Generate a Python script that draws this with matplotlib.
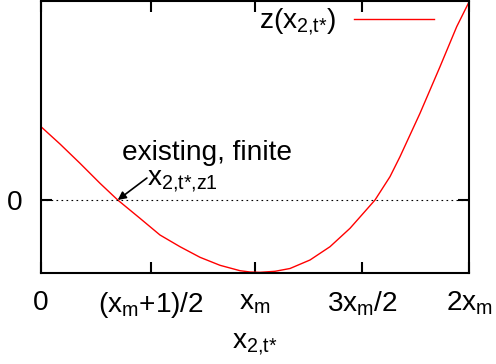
import matplotlib
matplotlib.use("Agg")
import matplotlib.pyplot as plt

plt.rcParams['font.family'] = ['Liberation Sans', 'DejaVu Sans']
plt.rcParams['mathtext.fontset'] = 'custom'
plt.rcParams['mathtext.rm'] = 'Liberation Sans'
plt.rcParams['mathtext.it'] = 'Liberation Sans'
plt.rcParams['mathtext.default'] = 'regular'

# curve z(x_2,t*) (x in units where x_m = 40)
x_vals = [0, 3.55, 7.29, 11.03, 14.34, 18.5, 22.24, 25.98, 29.72, 33.46, 37.2,
          39.07, 40.93, 43.74, 46.54, 50.28, 54.02, 57.76, 60.24, 62.43, 65.23,
          67.1, 70.84, 74.58, 77.7, 80.0]
z_vals = [7.33, 5.6, 3.67, 1.67, 0.0, -1.83, -3.5, -4.67, -5.73, -6.53, -7.07,
          -7.2, -7.23, -7.13, -6.85, -6.0, -4.67, -2.83, -1.33, 0.0, 2.33,
          4.33, 8.67, 13.33, 17.33, 19.8]

xticks = [0, 20.5, 40, 60, 80]
xticklabels = ['0', '$(x_m$+1)/2', '$x_m$', '$3x_m/2$', '$2x_m$']

fs = 20.2

fig = plt.figure(figsize=(4.96, 3.64), dpi=100)
ax = fig.add_axes([41/496, 1 - 273/364, 428/496, 272/364])

ax.plot(x_vals, z_vals, color='red', lw=1, label='$z(x_{2{,}t{*}})$')
ax.axhline(0, color='black', lw=0.8, ls=(0, (1.5, 3)))

ax.set_xlim(0, 80)
ax.set_ylim(-7.3, 19.9)
ax.set_xticks(xticks)
ax.set_xticklabels(xticklabels)
ax.set_yticks([0])
ax.set_yticklabels(['0'])
ax.tick_params(axis='both', direction='in', length=8, width=1.5, labelsize=fs,
               top=True, right=True)
ax.tick_params(axis='x', pad=12)
ax.tick_params(axis='y', pad=13)
for s in ax.spines.values():
    s.set_linewidth(1.5)

ax.set_xlabel('$x_{2{,}t{*}}$', fontsize=fs)
ax.xaxis.set_label_coords(0.5, -0.215)

ax.text(31.0, 4.0, 'existing, finite', fontsize=fs, ha='center', va='baseline')
ax.text(19.9, 1.5, '$x_{2{,}t{*}{,}z1}$', fontsize=fs, ha='left', va='baseline')
ax.annotate('', xy=(14.34, 0), xytext=(19.8, 2.2),
            arrowprops=dict(arrowstyle='-|>', color='black', lw=1.2,
                            mutation_scale=12, shrinkA=0, shrinkB=0))

ax.legend(loc='upper right', bbox_to_anchor=(0.945, 1.02), frameon=False,
          markerfirst=False, handlelength=2.85, handletextpad=0.65,
          fontsize=fs, borderaxespad=0)

fig.savefig('out.png', dpi=100)
